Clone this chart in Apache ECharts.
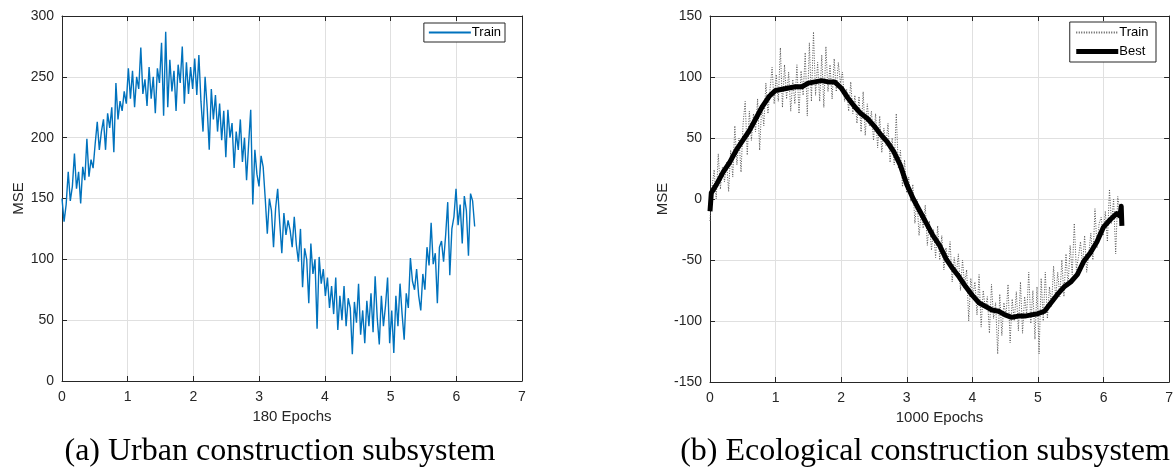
<!DOCTYPE html>
<html>
<head>
<meta charset="utf-8">
<script src="https://cdn.jsdelivr.net/npm/echarts@6/dist/echarts.min.js"></script>
<style>html,body{margin:0;padding:0;background:#fff;}#c{width:1176px;height:470px;}</style>
</head>
<body>
<div id="c"></div>
<script>
// ---- Data ----
const xTicks = [0, 1, 2, 3, 4, 5, 6, 7];
const trainXEnd = 6.28;   // last epoch position on x axis
// (a) Urban construction subsystem – Train MSE
const urbanTrain = [
  150,131,145,172,148,160,187,158,172,146,
  176,165,199,168,182,175,195,213,190,205,
  215,190,220,208,225,188,245,215,230,222,
  238,228,257,232,255,225,250,240,274,236,
  248,226,258,232,250,220,257,245,278,218,
  287,225,264,238,255,222,260,245,275,228,
  262,236,258,240,265,235,268,230,205,250,
  225,190,240,215,235,205,228,198,222,184,
  223,200,212,175,205,190,215,180,200,165,
  195,223,145,190,170,160,185,176,150,121,
  150,140,110,142,158,130,105,138,120,132,
  124,110,135,112,98,125,77,109,100,64,
  113,88,100,43,102,80,92,70,85,60,
  78,55,85,42,70,50,78,45,68,60,
  22,65,48,80,38,58,31,66,45,72,
  40,86,52,30,70,45,62,85,31,58,
  23,70,45,80,55,34,72,60,101,82,
  75,92,70,58,88,75,110,95,130,96,
  105,64,110,115,98,120,147,87,125,135,
  158,128,145,113,152,140,103,154,148,127
];
// (b) Ecological construction subsystem – Train MSE
const ecoTrain = [
  -18,10,24,0,37,8,26,14,30,6,
  40,18,60,28,50,22,62,80,36,72,
  48,70,55,82,40,78,60,95,70,90,
  108,78,102,80,124,75,110,82,104,72,
  98,78,110,70,105,85,120,68,128,80,
  137,85,112,80,118,75,125,88,110,82,
  115,88,112,95,104,80,90,72,96,70,
  85,62,84,55,88,52,78,60,72,48,
  70,42,68,38,58,44,62,30,50,28,
  70,25,40,10,32,5,18,-2,12,-20,
  0,-30,-12,-24,-5,-38,-18,-42,-25,-48,
  -22,-50,-30,-58,-40,-52,-35,-68,-48,-62,
  -45,-75,-50,-70,-58,-100,-65,-80,-68,-95,
  -62,-105,-75,-90,-80,-110,-70,-98,-85,-127,
  -78,-112,-85,-96,-70,-118,-82,-100,-76,-108,
  -68,-110,-80,-95,-60,-102,-75,-115,-72,-127,
  -65,-100,-60,-98,-72,-88,-55,-82,-60,-80,
  -50,-80,-45,-72,-38,-62,-20,-58,-48,-35,
  -55,-30,-60,-45,-28,-50,-8,-40,-20,-15,
  -30,-10,-35,8,-20,0,-45,2,-10,-22
];
// (b) Best MSE curve
const ecoBestX = [0,0.02,0.1,0.2,0.3,0.4,0.5,0.6,0.7,0.8,0.9,1.0,1.1,1.2,1.3,1.4,1.5,1.6,1.7,1.8,1.9,2.0,2.1,2.2,2.3,2.4,2.5,2.6,2.7,2.8,2.9,3.0,3.1,3.2,3.3,3.4,3.5,3.6,3.7,3.8,3.9,4.0,4.1,4.2,4.3,4.4,4.5,4.6,4.7,4.8,4.9,5.0,5.1,5.2,5.3,5.4,5.5,5.6,5.7,5.8,5.9,6.0,6.1,6.2,6.25,6.27,6.28];
const ecoBestY = [-10,5,12,22,30,40,48,56,66,76,84,89,90,91,92,92,95,96,97,96,96,91,83,76,70,66,60,53,47,39,28,12,0,-10,-20,-30,-38,-49,-57,-64,-72,-79,-85,-88,-91,-92,-95,-97,-96,-96,-95,-94,-92,-85,-78,-72,-68,-62,-51,-44,-35,-23,-17,-12,-14,-6,-22];
const urbanYTicks = [0, 50, 100, 150, 200, 250, 300];
const ecoYTicks = [-150, -100, -50, 0, 50, 100, 150];

function toPairs(vals) {
  const n = vals.length;
  return vals.map((v, i) => [i * trainXEnd / (n - 1), v]);
}

const axisColor = '#262626';
const font = 'Liberation Sans, Arial, sans-serif';

function xAxes(gi, name) {
  return [{
    type: 'value', gridIndex: gi, min: 0, max: 7, interval: 1,
    name: name, nameLocation: 'middle', nameGap: 28,
    nameTextStyle: { fontFamily: font, fontSize: 15, color: axisColor },
    axisLine: { show: true, onZero: false, lineStyle: { color: axisColor, width: 1 } },
    axisTick: { show: true, inside: true, length: 5, lineStyle: { color: axisColor } },
    axisLabel: { fontFamily: font, fontSize: 14, color: axisColor, margin: 9 },
    splitLine: { show: true, lineStyle: { color: '#e0e0e0', width: 1 } }
  }, {
    type: 'value', gridIndex: gi, min: 0, max: 7, interval: 1, position: 'top',
    axisLine: { show: true, onZero: false, lineStyle: { color: axisColor, width: 1 } },
    axisTick: { show: true, inside: true, length: 5, lineStyle: { color: axisColor } },
    axisLabel: { show: false }, splitLine: { show: false }
  }];
}
function yAxes(gi, min, max, interval) {
  return [{
    type: 'value', gridIndex: gi, min: min, max: max, interval: interval,
    name: 'MSE', nameLocation: 'middle', nameGap: gi === 0 ? 35 : 39, nameRotate: 90,
    nameTextStyle: { fontFamily: font, fontSize: 15, color: axisColor },
    axisLine: { show: true, onZero: false, lineStyle: { color: axisColor, width: 1 } },
    axisTick: { show: true, inside: true, length: 5, lineStyle: { color: axisColor } },
    axisLabel: { fontFamily: font, fontSize: 14, color: axisColor, margin: 8 },
    splitLine: { show: true, lineStyle: { color: '#e0e0e0', width: 1 } }
  }, {
    type: 'value', gridIndex: gi, min: min, max: max, interval: interval, position: 'right',
    axisLine: { show: true, onZero: false, lineStyle: { color: axisColor, width: 1 } },
    axisTick: { show: true, inside: true, length: 5, lineStyle: { color: axisColor } },
    axisLabel: { show: false }, splitLine: { show: false }
  }];
}

const chart = echarts.init(document.getElementById('c'), null, { renderer: 'canvas' });
chart.setOption({
  backgroundColor: '#ffffff',
  animation: false,
  grid: [
    { left: 62, width: 460, top: 16, height: 365 },
    { left: 710, width: 462, top: 16, height: 366 }
  ],
  xAxis: [...xAxes(0, '180 Epochs'), ...xAxes(1, '1000 Epochs')],
  yAxis: [...yAxes(0, 0, 300, 50), ...yAxes(1, -150, 150, 50)],
  legend: [
    {
      data: ['Train'], right: 1176 - 505, top: 23,
      orient: 'vertical', itemWidth: 42, itemHeight: 10, itemGap: 2,
      padding: [3, 4, 3, 4], borderColor: axisColor, borderWidth: 1, backgroundColor: '#fff',
      itemStyle: { opacity: 0 },
      textStyle: { fontFamily: font, fontSize: 13, color: '#000', padding: [0, 0, 0, -4] }
    },
    {
      data: ['Train ', { name: 'Best', lineStyle: { width: 5 } }], right: 20, top: 22,
      orient: 'vertical', itemWidth: 42, itemHeight: 10, itemGap: 6,
      padding: [4, 4, 4, 4], borderColor: axisColor, borderWidth: 1, backgroundColor: '#fff',
      itemStyle: { opacity: 0 },
      textStyle: { fontFamily: font, fontSize: 13, color: '#000', padding: [0, 0, 0, -4] }
    }
  ],
  series: [
    {
      name: 'Train', type: 'line', xAxisIndex: 0, yAxisIndex: 0,
      data: toPairs(urbanTrain), showSymbol: false, symbol: 'none',
      lineStyle: { color: '#0072BD', width: 1.4 }, itemStyle: { color: '#0072BD' }
    },
    {
      name: 'Train ', type: 'line', xAxisIndex: 2, yAxisIndex: 2,
      data: toPairs(ecoTrain), showSymbol: false, symbol: 'none',
      lineStyle: { color: '#555555', width: 1, type: [1, 1.5] }, itemStyle: { color: '#555555' }
    },
    {
      name: 'Best', type: 'line', xAxisIndex: 2, yAxisIndex: 2,
      data: ecoBestX.map((x, i) => [x, ecoBestY[i]]), showSymbol: false, symbol: 'none',
      lineStyle: { color: '#000000', width: 5, join: 'round', cap: 'butt' }, itemStyle: { color: '#000' }
    }
  ],
  graphic: [
    { type: 'text', x: 280, y: 436, style: { text: '(a) Urban construction subsystem', font: '32px "Liberation Serif", "Times New Roman", serif', fill: '#000', align: 'center', verticalAlign: 'top' } },
    { type: 'text', x: 925, y: 436, style: { text: '(b) Ecological construction subsystem', font: '32px "Liberation Serif", "Times New Roman", serif', fill: '#000', align: 'center', verticalAlign: 'top' } }
  ]
});
</script>
</body>
</html>
